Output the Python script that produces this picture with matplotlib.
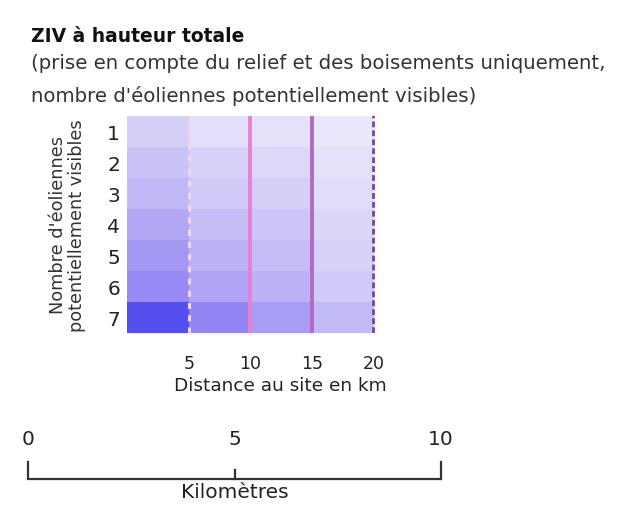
import numpy as np
import matplotlib
matplotlib.use("Agg")
import matplotlib.pyplot as plt
from matplotlib.colors import LinearSegmentedColormap

plt.rcParams['font.family'] = ['DejaVu Sans']

# Distance bands (km) and number of potentially visible turbines
distance_edges = [0, 5, 10, 15, 20]
distance_ticks = [5, 10, 15, 20]
turbine_counts = [1, 2, 3, 4, 5, 6, 7]

# Visibility intensity per band (columns) and turbine count (rows)
band_0_5 = [0.22, 0.32, 0.40, 0.50, 0.60, 0.68, 0.92]
band_5_10 = [0.10, 0.20, 0.27, 0.35, 0.43, 0.52, 0.70]
band_10_15 = [0.08, 0.15, 0.22, 0.30, 0.36, 0.43, 0.57]
band_15_20 = [0.04, 0.08, 0.12, 0.16, 0.20, 0.26, 0.38]

# Scale bar
scale_ticks = [0, 5, 10]

intensity = np.column_stack([band_0_5, band_5_10, band_10_15, band_15_20])

cmap = LinearSegmentedColormap.from_list(
    "ziv", ["#eeebfb", "#c8c1f7", "#9b8ef4", "#3f3cee"])

fig = plt.figure(figsize=(6.36, 5.06), dpi=100)
W, H = 636, 506

def px_axes(x0, y0, x1, y1):
    return fig.add_axes([x0 / W, 1 - y1 / H, (x1 - x0) / W, (y1 - y0) / H])

# Header text
fig.text(31 / W, 1 - 36 / H, "ZIV à hauteur totale", fontsize=13.5,
         fontweight='bold', va='center', ha='left', color='#111111')
fig.text(31 / W, 1 - 64 / H,
         "(prise en compte du relief et des boisements uniquement,",
         fontsize=14.2, va='center', ha='left', color='#333333')
fig.text(31 / W, 1 - 96 / H, "nombre d'éoliennes potentiellement visibles)",
         fontsize=14.2, va='center', ha='left', color='#333333')

# Visibility grid
ax = px_axes(127, 117, 375, 334)
y_edges = np.arange(len(turbine_counts) + 1) + 0.5
ax.pcolormesh(distance_edges, y_edges, intensity, cmap=cmap, vmin=0, vmax=1,
              shading='flat')
ax.set_xlim(distance_edges[0], distance_edges[-1] + 0.1)
ax.set_ylim(y_edges[-1], y_edges[0])

ax.axvline(5, color='#f5d4ec', lw=2.2, ls=(0, (2, 2)))
ax.axvline(10, color='#e980d2', lw=2.8)
ax.axvline(15, color='#b36ac2', lw=2.8)
ax.axvline(20, color='#7b4d9c', lw=2.8, ls=(0, (1.5, 0.8)))

for s in ax.spines.values():
    s.set_visible(False)
ax.set_yticks(turbine_counts)
ax.set_yticklabels([str(v) for v in turbine_counts], fontsize=14.5,
                   color='#222222')
ax.tick_params(axis='y', length=0, pad=5)
ax.set_xticks(distance_ticks)
ax.set_xticklabels([str(v) for v in distance_ticks], fontsize=12.5,
                   color='#222222')
ax.tick_params(axis='x', length=0, pad=15)
ax.set_xlabel("Distance au site en km", fontsize=13.3, color='#222222',
              labelpad=0)
ax.xaxis.set_label_coords(0.62, -0.20)
ax.set_ylabel("Nombre d'éoliennes\npotentiellement visibles", fontsize=12.8,
              color='#333333', linespacing=1.05)
ax.yaxis.set_label_coords(-0.165, 0.5)

# Scale bar
sb = px_axes(28, 440, 441, 500)
sb.set_xlim(scale_ticks[0], scale_ticks[-1])
sb.set_ylim(0, 60)
sb.axis('off')
sb.plot([scale_ticks[0], scale_ticks[-1]], [20, 20], color='#333333', lw=1.6,
        solid_capstyle='butt', clip_on=False)
for t in scale_ticks:
    top = 29 if t == 5 else 37
    sb.plot([t, t], [20, top], color='#333333', lw=1.6, clip_on=False)
    sb.text(t, 60, str(t), fontsize=14.5, ha='center', va='center',
            color='#222222')
sb.text(scale_ticks[1], 7, "Kilomètres", fontsize=14.5, ha='center',
        va='center', color='#222222')

fig.savefig("out.png", dpi=100)
